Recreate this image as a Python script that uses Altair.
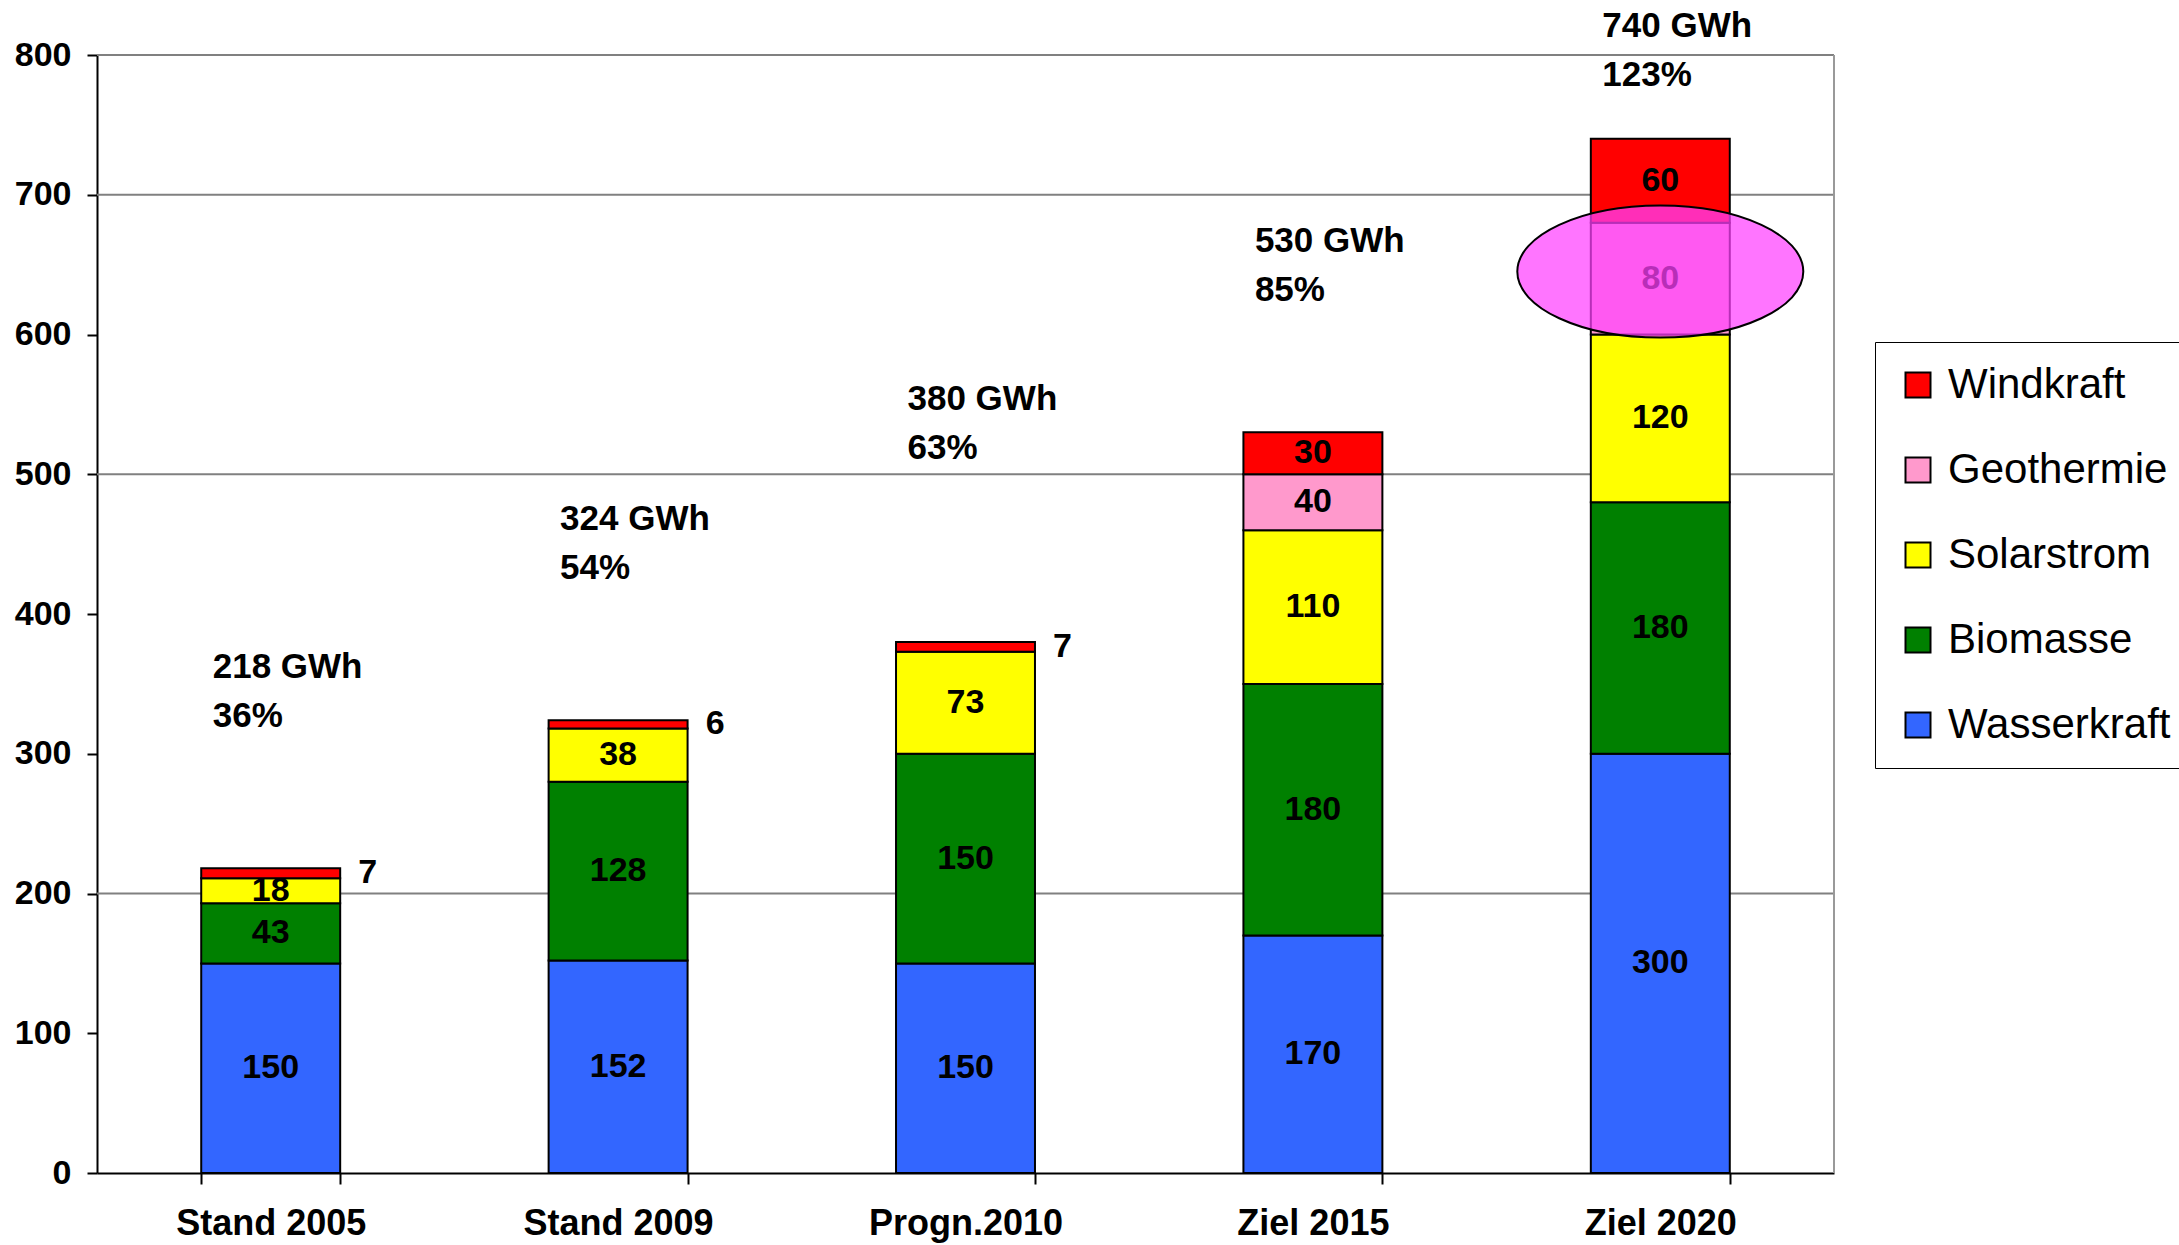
import altair as alt
import pandas as pd

# ---------------- data ----------------
categories = ["Stand 2005", "Stand 2009", "Progn.2010", "Ziel 2015", "Ziel 2020"]
sources = ["Wasserkraft", "Biomasse", "Solarstrom", "Geothermie", "Windkraft"]  # bottom -> top
wasserkraft = [150, 152, 150, 170, 300]
biomasse = [43, 128, 150, 180, 180]
solarstrom = [18, 38, 73, 110, 120]
geothermie = [0, 0, 0, 40, 80]
windkraft = [7, 6, 7, 30, 60]
series = [wasserkraft, biomasse, solarstrom, geothermie, windkraft]

total_labels = ["218 GWh", "324 GWh", "380 GWh", "530 GWh", "740 GWh"]
share_labels = ["36%", "54%", "63%", "85%", "123%"]
label_heights = [362, 468, 554, 667, 821]  # value-axis height of the total labels

legend_order = ["Windkraft", "Geothermie", "Solarstrom", "Biomasse", "Wasserkraft"]
legend_colors = ["#ff0000", "#ff99cc", "#ffff00", "#008000", "#3366ff"]

grid_values = [200, 500, 700, 800]
y_ticks = [0, 100, 200, 300, 400, 500, 600, 700, 800]

highlight_category = "Ziel 2020"
highlight_center = 645

rows = []
for i, c in enumerate(categories):
    for j, s in enumerate(sources):
        rows.append({"cat": c, "source": s, "value": series[j][i], "order": j})
df = pd.DataFrame(rows)

tot = pd.DataFrame({"cat": categories, "gwh": total_labels, "pct": share_labels, "ly": label_heights})
grid_df = pd.DataFrame({"cat": [categories[0]] * len(grid_values), "g": grid_values})
hl_df = pd.DataFrame({"cat": [highlight_category], "yc": [highlight_center]})

# ---------------- layout ----------------
W, H = 1737, 1118
FONT = "Liberation Sans"

xscale = alt.Scale(domain=categories, paddingInner=0.6, paddingOuter=0.3)
yscale = alt.Scale(domain=[0, 800], nice=False, zero=True)

x_axis = alt.Axis(title=None, labelFont=FONT, labelFontWeight="bold", labelFontSize=36,
                  labelColor="black", tickBand="extent", tickSize=11, tickColor="black",
                  tickWidth=2, domainColor="black", domainWidth=2, labelPadding=22,
                  labelLimit=600, grid=False, labelAngle=0)
y_axis = alt.Axis(title=None, values=y_ticks, grid=False, labelFont=FONT, labelFontSize=34,
                  labelFontWeight="bold", labelColor="black", tickSize=10, tickColor="black",
                  tickWidth=2, domainColor="black", domainWidth=2, labelPadding=16)

X = alt.X("cat:N", sort=categories, scale=xscale, axis=x_axis)


def Y(field):
    return alt.Y(field, scale=yscale, axis=y_axis)


stacked = (alt.Chart(df)
           .transform_filter("datum.value > 0")
           .transform_stack(stack="value", groupby=["cat"],
                            sort=[alt.SortField("order", order="ascending")], as_=["v0", "v1"])
           .transform_calculate(mid="(datum.v0 + datum.v1) / 2"))

grid = alt.Chart(grid_df).mark_rule(color="#808080", strokeWidth=2).encode(
    y=Y("g:Q"), x=alt.value(0), x2=alt.value(W))

frame = alt.Chart(grid_df).mark_rule(color="#999999", strokeWidth=2).encode(
    x=alt.value(W), y=alt.value(0), y2=alt.value(H))

bars = stacked.mark_bar(stroke="black", strokeWidth=2, opacity=1).encode(
    x=X,
    y=Y("v0:Q"),
    y2="v1:Q",
    color=alt.Color("source:N", scale=alt.Scale(domain=legend_order, range=legend_colors),
                    legend=alt.Legend(title=None, orient="none", legendX=1778, legendY=287,
                                      labelFont=FONT, labelFontSize=42, labelColor="black",
                                      symbolType="square", symbolSize=625,
                                      symbolStrokeColor="black", symbolStrokeWidth=2,
                                      symbolOpacity=1, rowPadding=43, padding=22,
                                      strokeColor="black", fillColor="white",
                                      labelOffset=9, labelLimit=500)),
)

inside = stacked.transform_filter("datum.value >= 10").mark_text(
    font=FONT, fontSize=34, fontWeight="bold", color="black", baseline="middle").encode(
    x=X, y=Y("mid:Q"), text="value:Q")

outside = stacked.transform_filter("datum.value < 10").mark_text(
    font=FONT, fontSize=34, fontWeight="bold", color="black", baseline="middle", dx=97).encode(
    x=X, y=Y("mid:Q"), text="value:Q")

top1 = alt.Chart(tot).mark_text(font=FONT, fontSize=35, fontWeight="bold", color="black",
                                align="left", baseline="middle", dx=-58).encode(
    x=X, y=Y("ly:Q"), text="gwh:N")
top2 = alt.Chart(tot).mark_text(font=FONT, fontSize=35, fontWeight="bold", color="black",
                                align="left", baseline="middle", dx=-58, dy=49).encode(
    x=X, y=Y("ly:Q"), text="pct:N")

k = 0.4615
ellipse_path = (f"M -1 0 C -1 {-k*0.5523:.4f} -0.5523 {-k} 0 {-k} "
                f"C 0.5523 {-k} 1 {-k*0.5523:.4f} 1 0 "
                f"C 1 {k*0.5523:.4f} 0.5523 {k} 0 {k} "
                f"C -0.5523 {k} -1 {k*0.5523:.4f} -1 0 Z")
ellipse = alt.Chart(hl_df).mark_point(shape=ellipse_path, size=286 * 286, filled=True,
                                      fill="#ff40ff", fillOpacity=0.72, stroke="black",
                                      strokeWidth=2, opacity=1).encode(
    x=X, y=Y("yc:Q"))

chart = (alt.layer(grid, frame, bars, inside, outside, top1, top2, ellipse)
         .properties(width=W, height=H,
                     padding={"left": 97, "top": 55, "right": 2179 - 97 - W, "bottom": 1245 - 55 - H},
                     autosize=alt.AutoSizeParams(type="none"),
                     background="white")
         .configure_view(stroke=None))

chart.save("out.html", embed_options={"renderer": "svg", "actions": False})
